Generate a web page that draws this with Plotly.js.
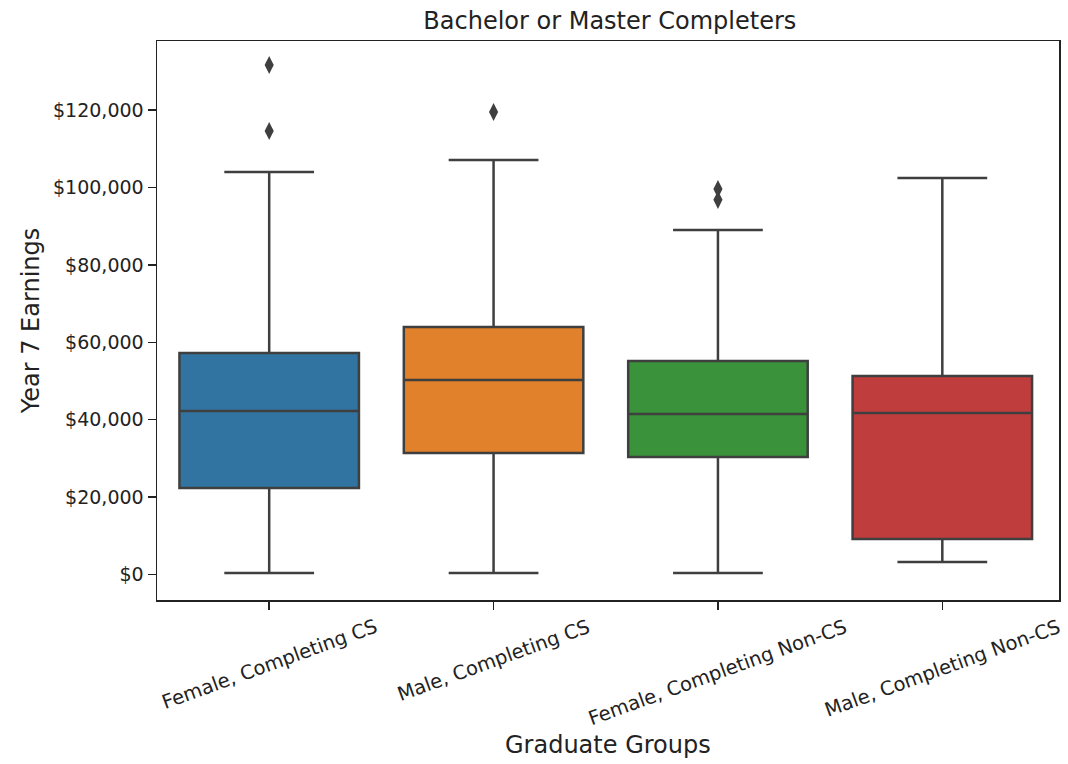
<!DOCTYPE html>
<html>
<head>
<meta charset="utf-8">
<script src="https://cdn.plot.ly/plotly-3.0.1.min.js"></script>
<style>html,body{margin:0;padding:0;background:#fff;}#chart{width:1068px;height:764px;}</style>
</head>
<body>
<div id="chart"></div>
<script>
const categories = ["Female, Completing CS", "Male, Completing CS", "Female, Completing Non-CS", "Male, Completing Non-CS"];
const colors = ["#3274a1", "#e1812c", "#3a923a", "#c03d3e"];
const lowerWhisker = [400, 400, 400, 3200];
const q1Values = [22350, 31400, 30350, 9150];
const medianValues = [42250, 50250, 41500, 41700];
const q3Values = [57250, 63950, 55150, 51300];
const upperWhisker = [104000, 107100, 89000, 102450];
const outlierGroups = ["Female, Completing CS", "Female, Completing CS", "Male, Completing CS", "Female, Completing Non-CS", "Female, Completing Non-CS"];
const outlierValues = [131650, 114600, 119500, 99600, 96800];
const tickValues = [0, 20000, 40000, 60000, 80000, 100000, 120000];

const traces = categories.map((c, i) => ({
  type: "box",
  x: [c],
  q1: [q1Values[i]],
  median: [medianValues[i]],
  q3: [q3Values[i]],
  lowerfence: [lowerWhisker[i]],
  upperfence: [upperWhisker[i]],
  fillcolor: colors[i],
  line: {color: "#3f3f3f", width: 2.5},
  whiskerwidth: 0.5,
  width: 0.8,
  boxpoints: false,
  hoverinfo: "y",
  showlegend: false
}));
traces.push({
  type: "scatter",
  mode: "markers",
  x: outlierGroups,
  y: outlierValues,
  marker: {symbol: "diamond-tall", size: 13, color: "#3f3f3f", line: {width: 0}},
  showlegend: false
});

const font = "DejaVu Sans, sans-serif";
const annotations = categories.map(c => ({
  text: c, x: c, xref: "x", y: -0.022, yref: "paper",
  xanchor: "center", yanchor: "top", textangle: -20, showarrow: false,
  font: {family: font, size: 19.5, color: "#222"}
}));
annotations.push({
  text: "Graduate Groups", x: 0.5, xref: "paper", y: -0.26, yref: "paper",
  xanchor: "center", yanchor: "middle", showarrow: false,
  font: {family: font, size: 24, color: "#222"}
});

const layout = {
  width: 1068, height: 764,
  margin: {l: 157, r: 9, t: 41, b: 164},
  paper_bgcolor: "#fff", plot_bgcolor: "#fff",
  font: {family: font, color: "#222"},
  title: {text: "Bachelor or Master Completers", x: 0.571, xanchor: "center", y: 0.973, yanchor: "middle",
          font: {family: font, size: 24, color: "#222"}},
  boxmode: "overlay",
  xaxis: {
    type: "category", categoryarray: categories, categoryorder: "array",
    range: [-0.5, 3.52], showticklabels: false,
    ticks: "outside", ticklen: 8, tickwidth: 1.5, tickcolor: "#222",
    showline: true, mirror: true, linecolor: "#222", linewidth: 1.5,
    showgrid: false, zeroline: false
  },
  yaxis: {
    range: [-6590, 137850],
    tickvals: tickValues, tickformat: "$,.0f",
    ticks: "outside", ticklen: 8, tickwidth: 1.5, tickcolor: "#222",
    tickfont: {family: font, size: 19, color: "#222"},
    showline: true, mirror: true, linecolor: "#222", linewidth: 1.5,
    showgrid: false, zeroline: false,
    title: {text: "Year 7 Earnings", standoff: 6, font: {family: font, size: 24, color: "#222"}}
  },
  annotations: annotations
};

Plotly.newPlot("chart", traces, layout, {displayModeBar: false, staticPlot: true});
</script>
</body>
</html>
